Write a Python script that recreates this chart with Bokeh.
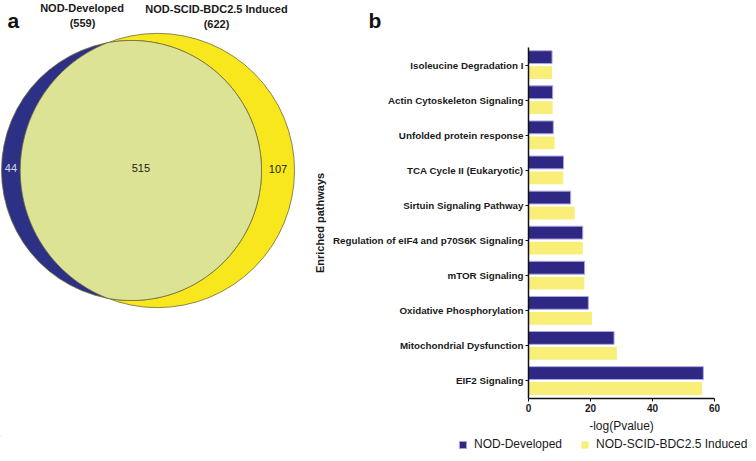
import numpy as np
from bokeh.plotting import figure
from bokeh.layouts import row, column
from bokeh.models import (Range1d, FactorRange, ColumnDataSource, Legend,
                          LegendItem, FixedTicker)
from bokeh.transform import dodge
from bokeh.core.properties import value
from bokeh.embed import file_html
from bokeh.resources import INLINE

# ---------------- data ----------------
venn_sets = ["NOD-Developed", "NOD-SCID-BDC2.5 Induced"]
venn_totals = [559, 622]
venn_shared = 515

pathways = [
    "Isoleucine Degradation I",
    "Actin Cytoskeleton Signaling",
    "Unfolded protein response",
    "TCA Cycle II (Eukaryotic)",
    "Sirtuin Signaling Pathway",
    "Regulation of eIF4 and p70S6K Signaling",
    "mTOR Signaling",
    "Oxidative Phosphorylation",
    "Mitochondrial Dysfunction",
    "EIF2 Signaling",
]
nod_developed = [7.6, 7.8, 8.0, 11.3, 13.6, 17.5, 18.1, 19.3, 27.6, 56.4]
nod_scid_induced = [7.6, 7.8, 8.4, 11.2, 14.9, 17.5, 18.0, 20.5, 28.5, 56.0]
x_ticks = [0, 20, 40, 60]

# ---------------- styles ----------------
FONT = "Liberation Sans"
DARK_VENN = "#2c3186"
YELLOW_VENN = "#f8e71c"
SHARED = "#dde395"
DARK_BAR = "#2e2783"
YELLOW_BAR = "#f8ee78"
BAR_EDGE = "#aaa6dd"
TXT = "#1a1a1a"
OUT = "#6e6a3c"

W = 756
H_TOP, H_MID, H_BOT = 31, 404, 26
W_A = 310
W_B = W - W_A


def blank(width, height, x0, y0):
    p = figure(width=width, height=height,
               x_range=Range1d(x0, x0 + width),
               y_range=Range1d(y0 + height, y0),
               output_backend="svg", toolbar_location=None,
               x_axis_location=None, y_axis_location=None, min_border=0)
    p.grid.visible = False
    p.outline_line_color = None
    p.frame_align = False
    return p


# ---------------- top strip: panel letters and Venn titles ----------------
pt = blank(W, H_TOP, 0, 0)
n1, n2 = venn_totals
pt.text(x=[81.5, 82, 216, 216], y=[7.5, 22, 8, 23],
        text=[venn_sets[0], "(%d)" % n1, venn_sets[1], "(%d)" % n2],
        text_color=TXT, text_font=value(FONT), text_font_size="11px",
        text_font_style="bold", text_align="center", text_baseline="middle")
pt.text(x=[7, 368], y=[19.5, 20], text=["a", "b"], text_color="#111111",
        text_font=value(FONT), text_font_size="21px", text_font_style="bold",
        text_align="left", text_baseline="alphabetic")

# ---------------- panel a: Venn ----------------
pa = blank(W_A, H_MID, 0, H_TOP)

only1 = n1 - venn_shared
only2 = n2 - venn_shared
r1 = 130.0
k = r1 / np.sqrt(n1)
r2 = k * np.sqrt(n2)
target = np.pi * k * k * venn_shared


def lens_area(d):
    c1 = np.clip((d * d + r1 * r1 - r2 * r2) / (2 * d * r1), -1, 1)
    c2 = np.clip((d * d + r2 * r2 - r1 * r1) / (2 * d * r2), -1, 1)
    tri = max((-d + r1 + r2) * (d + r1 - r2) * (d - r1 + r2) * (d + r1 + r2), 0)
    return r1 * r1 * np.arccos(c1) + r2 * r2 * np.arccos(c2) - 0.5 * np.sqrt(tri)


lo, hi = abs(r2 - r1) + 1e-6, r1 + r2
for _ in range(100):
    mid = 0.5 * (lo + hi)
    if lens_area(mid) > target:
        lo = mid
    else:
        hi = mid
d = 0.5 * (lo + hi)

cx1 = 1.0 + r1
cx2 = cx1 + d
cy = 170.0

a_ = (d * d + r1 * r1 - r2 * r2) / (2 * d)
h_ = np.sqrt(r1 * r1 - a_ * a_)
th1 = np.arctan2(h_, a_)
th2 = np.arctan2(h_, a_ - d)
t1 = np.linspace(-th1, th1, 240)
t2 = np.linspace(th2, 2 * np.pi - th2, 240)
lens_x = np.concatenate([cx1 + r1 * np.cos(t1), cx2 + r2 * np.cos(t2)])
lens_y = np.concatenate([cy + r1 * np.sin(t1), cy + r2 * np.sin(t2)])

pa.circle(x=[cx2], y=[cy], radius=r2, fill_color=YELLOW_VENN,
          line_color=OUT, line_width=0.8)
pa.circle(x=[cx1], y=[cy], radius=r1, fill_color=DARK_VENN,
          line_color=OUT, line_width=0.8)
pa.patch(lens_x, lens_y, fill_color=SHARED, line_color=OUT, line_width=0.8)

pa.text(x=[((cx1 - r1) + (cx2 - r2)) / 2,
           ((cx2 - r2) + (cx1 + r1)) / 2,
           ((cx1 + r1) + (cx2 + r2)) / 2],
        y=[cy - 3, cy - 3, cy - 2],
        text=[str(only1), str(venn_shared), str(only2)],
        text_color=["#d4d4ea", TXT, TXT],
        text_font=value(FONT), text_font_size="11px",
        text_align="center", text_baseline="middle")

# ---------------- panel b: bars ----------------
pb = figure(width=W_B, height=H_MID, y_range=FactorRange(factors=pathways[::-1]),
            x_range=Range1d(0, 60), output_backend="svg",
            toolbar_location=None, min_border_left=216, min_border_right=42,
            min_border_top=16, min_border_bottom=37)
pb.grid.visible = False
pb.outline_line_color = None
pb.frame_align = False

src = ColumnDataSource(dict(pathway=pathways, dev=nod_developed,
                            scid=nod_scid_induced))
pb.hbar(y=dodge("pathway", 0.225, range=pb.y_range), left=0,
        right="dev", height=0.365, source=src, fill_color=DARK_BAR,
        line_color=BAR_EDGE, line_width=1)
pb.hbar(y=dodge("pathway", -0.215, range=pb.y_range), left=0,
        right="scid", height=0.365, source=src,
        fill_color=YELLOW_BAR, line_color=None)

for ax in (pb.xaxis[0], pb.yaxis[0]):
    ax.axis_line_width = 1.5
    ax.axis_line_color = "#111111"
    ax.major_tick_line_color = "#111111"
    ax.major_tick_line_width = 1
    ax.major_tick_in = 0
    ax.major_tick_out = 3
    ax.minor_tick_line_color = None
    ax.major_label_text_font = FONT
    ax.major_label_text_font_style = "bold"
    ax.major_label_text_color = TXT
    ax.axis_label_text_font = FONT
    ax.axis_label_text_color = TXT

xa = pb.xaxis[0]
xa.ticker = FixedTicker(ticks=x_ticks)
xa.major_label_text_font_size = "10px"
xa.major_label_standoff = 2
xa.axis_label = "-log(Pvalue)"
xa.axis_label_text_font_size = "12px"
xa.axis_label_text_font_style = "normal"
xa.axis_label_standoff = 4

ya = pb.yaxis[0]
ya.major_label_text_font_size = "9.8px"
ya.major_label_standoff = 2
ya.axis_label = "Enriched pathways"
ya.axis_label_text_font_size = "11px"
ya.axis_label_text_font_style = "bold"
ya.axis_label_standoff = 4

# ---------------- bottom strip: legend ----------------
# the two key swatches reuse the bar styles; their glyphs lie far outside the view
pl = blank(W, H_BOT, 0, H_TOP + H_MID)
key_src = ColumnDataSource(dict(y=[-5000.0], left=[-5000.0], right=[-4999.0]))
g_dev = pl.hbar(y="y", left="left", right="right", height=1, source=key_src,
                fill_color=DARK_BAR, line_color=BAR_EDGE, line_width=1)
g_scid = pl.hbar(y="y", left="left", right="right", height=1, source=key_src,
                 fill_color=YELLOW_BAR, line_color=None)
legend = Legend(items=[LegendItem(label=venn_sets[0], renderers=[g_dev]),
                       LegendItem(label=venn_sets[1], renderers=[g_scid])],
                location=(458, 10), orientation="horizontal",
                glyph_width=9, glyph_height=9, label_standoff=7, spacing=18,
                padding=0, margin=0, label_height=9,
                border_line_color=None, background_fill_alpha=0,
                label_text_font=FONT, label_text_font_size="12px",
                label_text_color=TXT)
pl.add_layout(legend)

layout = column(pt, row(pa, pb), pl)
open("out.html", "w").write(file_html(layout, INLINE))
